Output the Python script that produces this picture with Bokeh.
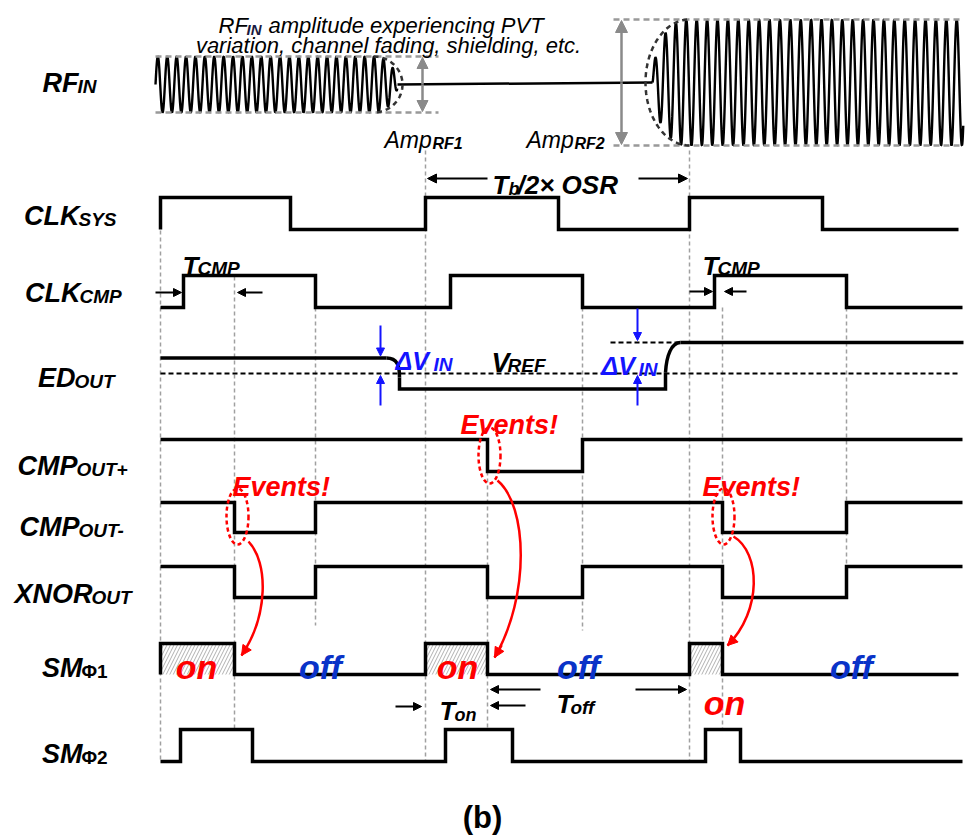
import numpy as np
from bokeh.plotting import figure
from bokeh.models import Range1d, Arrow, NormalHead, ColumnDataSource
from bokeh.core.properties import value
from bokeh.embed import file_html
from bokeh.resources import INLINE

# ---------------- data (time axis in drawing units) ----------------
T_START, T_END = 160, 962
clk_sys_edges = [160, 290, 425, 558, 689, 822]
clk_cmp_edges = [183, 315, 450, 582, 714, 846]
cmp_p_edges = [487, 582]
cmp_m_edges = [234, 315, 722, 846]
xnor_edges = [234, 315, 487, 582, 722, 846]
sm1_edges = [160, 234, 425, 487, 689, 722]
sm2_edges = [180, 252, 445, 512, 705, 740]
ed_edges = [388, 665]
ed_levels = [0.5, -0.5, 1.0]          # ED_OUT relative to V_REF (units of ΔV)
event_times = [234, 487, 722]
guide_lines = [(160, 230, 761), (234, 276, 729), (315, 307, 625), (425, 150, 761),
               (487, 471, 729), (582, 307, 630), (689, 150, 761), (722, 307, 729),
               (846, 307, 566)]
rf1_amp, rf2_amp = 28, 63
rf1_period, rf2_period = 9.4, 10.4
rf1_span = [155, 373, 397]   # start, full-amplitude end, fade end
rf2_span = [652, 686, 963]   # start, full amplitude, end

FONT = value("Liberation Sans")

p = figure(width=967, height=838, x_range=Range1d(0, 967), y_range=Range1d(838, 0),
           x_axis_type=None, y_axis_type=None, toolbar_location=None,
           output_backend="svg", min_border=0, outline_line_color=None)
p.grid.visible = False
p.background_fill_color = "white"
p.border_fill_color = "white"


def txt(x, y, s, size, style="bold italic", color="black", align="left"):
    p.text(x=[x], y=[y], text=[s], text_font=FONT, text_font_size=f"{size}px",
           text_font_style=style, text_color=color, text_align=align,
           text_baseline="alphabetic")


def arrows(pairs, color="black", width=2, size=9):
    src = ColumnDataSource(dict(x0=[a[0] for a in pairs], y0=[a[1] for a in pairs],
                                x1=[a[2] for a in pairs], y1=[a[3] for a in pairs]))
    head = NormalHead(size=size, fill_color=color, line_color=color)
    p.add_layout(Arrow(source=src, x_start="x0", y_start="y0", x_end="x1", y_end="y1",
                       end=head, line_color=color, line_width=width))


def steps(edges, init, hi, lo, t0=T_START, t1=T_END):
    lvl = init
    xs, ys = [t0], [hi if lvl else lo]
    for e in edges:
        xs.append(e); ys.append(hi if lvl else lo)
        lvl = 1 - lvl
        xs.append(e); ys.append(hi if lvl else lo)
    xs.append(t1); ys.append(hi if lvl else lo)
    return xs, ys


# ---------------- guide lines ----------------
for gx, gy0, gy1 in guide_lines:
    p.line([gx, gx], [gy0, gy1], line_color="#a0a0a0", line_width=1.5, line_dash="4 3")

# ---------------- RF input ----------------
rc1, rc2 = 84, 82
x1 = np.arange(rf1_span[0], rf1_span[2], 0.25)
env1 = np.where(x1 <= rf1_span[1], rf1_amp,
                rf1_amp * np.sqrt(np.clip(1 - ((x1 - rf1_span[1]) / (rf1_span[2] - rf1_span[1])) ** 2, 0, 1)))
y1 = rc1 - env1 * np.sin(2 * np.pi * (x1 - rf1_span[0]) / rf1_period)
p.line(x1, y1, line_color="black", line_width=2.4)
p.line([rf1_span[2], rf2_span[0]], [rc1, rc2], line_color="black", line_width=2.5)
x2 = np.arange(rf2_span[0], rf2_span[2], 0.25)
env2 = np.where(x2 >= rf2_span[1], rf2_amp,
                rf2_amp * np.sqrt(np.clip(1 - ((rf2_span[1] - x2) / (rf2_span[1] - rf2_span[0])) ** 2, 0, 1)))
y2 = rc2 - env2 * np.sin(2 * np.pi * (x2 - rf2_span[0]) / rf2_period)
p.line(x2, y2, line_color="black", line_width=2.4)

# envelopes
for yy in (rc1 - rf1_amp, rc1 + rf1_amp):
    p.line([155, 438], [yy, yy], line_color="#999999", line_width=2.5, line_dash="6 4")
for yy in (rc2 - rf2_amp, rc2 + rf2_amp):
    p.line([613, 963], [yy, yy], line_color="#999999", line_width=2.5, line_dash="6 4")
t = np.linspace(-np.pi / 2, np.pi / 2, 60)
p.line(rf1_span[1] + 29 * np.cos(t), rc1 + rf1_amp * np.sin(t), line_color="#333333",
       line_width=2.5, line_dash="5 4")
t = np.linspace(np.pi / 2, 3 * np.pi / 2, 80)
p.line(689 + 44 * np.cos(t), rc2 + rf2_amp * np.sin(t), line_color="#333333",
       line_width=2.5, line_dash="5 4")
arrows([(422, rc1, 422, rc1 - rf1_amp + 1), (422, rc1, 422, rc1 + rf1_amp - 1)],
       color="#8a8a8a", width=2.5, size=11)
arrows([(621, rc2, 621, rc2 - rf2_amp + 1), (621, rc2, 621, rc2 + rf2_amp - 1)],
       color="#8a8a8a", width=2.5, size=12)

# ---------------- digital waveforms ----------------
rows = {"clk_sys": (197, 229), "clk_cmp": (275, 307), "cmp_p": (439, 471),
        "cmp_m": (502, 532), "xnor": (566, 597), "sm1": (643, 674), "sm2": (729, 761)}
W = 3.5

# hatched "on" windows of SM_Φ1
hi, lo = rows["sm1"]
p.quad(left=sm1_edges[0::2], right=sm1_edges[1::2], top=[hi] * 3, bottom=[lo] * 3,
       fill_color=None, line_color=None, hatch_pattern="/", hatch_color="#b0b0b0",
       hatch_scale=7, hatch_weight=1)

for name, edges, init, t1 in [("clk_sys", clk_sys_edges, 0, 958), ("clk_cmp", clk_cmp_edges, 0, 962),
                              ("cmp_p", cmp_p_edges, 1, 962), ("cmp_m", cmp_m_edges, 1, 962),
                              ("xnor", xnor_edges, 1, 962), ("sm1", sm1_edges, 0, 958),
                              ("sm2", sm2_edges, 0, 962)]:
    hi, lo = rows[name]
    xs, ys = steps(edges, init, hi, lo, T_START, t1)
    p.line(xs, ys, line_color="black", line_width=W, line_join="miter")

# ---------------- ED_OUT ----------------
vref_y, dv = 373, 31
ed_y = [vref_y - lv * dv for lv in ed_levels]
p.line([160, 960], [vref_y, vref_y], line_color="black", line_width=2, line_dash="5 3")
p.line([160, ed_edges[0] - 2], [ed_y[0], ed_y[0]], line_color="black", line_width=W)
p.bezier(x0=[ed_edges[0] - 2], y0=[ed_y[0]], x1=[ed_edges[0] + 11], y1=[vref_y + 4],
         cx0=[ed_edges[0] + 9], cy0=[ed_y[0]], cx1=[ed_edges[0] + 11], cy1=[ed_y[0] + 8],
         line_color="black", line_width=W)
p.line([ed_edges[0] + 11, ed_edges[0] + 11, ed_edges[1], ed_edges[1], ],
       [vref_y + 4, ed_y[1], ed_y[1], vref_y - 1], line_color="black", line_width=W,
       line_join="miter")
p.bezier(x0=[ed_edges[1]], y0=[vref_y - 1], x1=[ed_edges[1] + 15], y1=[ed_y[2]],
         cx0=[ed_edges[1] + 1], cy0=[vref_y - 18], cx1=[ed_edges[1] + 6], cy1=[ed_y[2]],
         line_color="black", line_width=W)
p.line([ed_edges[1] + 15, 963], [ed_y[2], ed_y[2]], line_color="black", line_width=W)
p.line([610, ed_edges[1] + 12], [ed_y[2], ed_y[2]], line_color="black", line_width=2,
       line_dash="5 3")

BLUE = "#1414ff"
arrows([(380, 325, 380, ed_y[0] - 2), (380, 405, 380, vref_y + 2),
        (637, 308, 637, ed_y[2] - 2), (637, 405, 637, vref_y + 2)], color=BLUE, width=2, size=8)

# ---------------- timing annotations ----------------
arrows([(487, 178, 427, 178), (638, 178, 687, 178)], width=2, size=9)
txt(492, 184, "T", 26)
txt(508, 188, "b", 18)
txt(517, 184, "/2× OSR", 26)

arrows([(155, 292, 181, 292), (262, 292, 237, 292),
        (689, 291, 712, 291), (746, 291, 724, 291)], width=2, size=8)
txt(182, 265, "T", 26)
txt(197, 268, "CMP", 19)
txt(702, 265, "T", 26)
txt(717, 268, "CMP", 19)

arrows([(395, 706, 421, 706), (525, 705, 490, 705),
        (540, 689, 490, 689), (635, 689, 686, 689)], width=2, size=8)
txt(439, 710, "T", 26)
txt(454, 714, "on", 18)
txt(556, 703, "T", 26)
txt(570, 707, "off", 19)

# ED labels
txt(395, 360, "ΔV", 25, color=BLUE)
txt(433, 364, "IN", 19, color=BLUE)
txt(601, 365, "ΔV", 25, color=BLUE)
txt(638, 369, "IN", 19, color=BLUE)
txt(491, 362, "V", 27)
txt(507, 365, "REF", 19)

# ---------------- events ----------------
RED = "#ff0000"
p.ellipse(x=[237, 489, 723], y=[516, 455, 516], width=[22, 22, 22], height=[56, 56, 56],
          fill_color=None, line_color=RED, line_width=2.5, line_dash="4 3")
txt(232, 486, "Events!", 27, color=RED)
txt(460, 424, "Events!", 27, color=RED)
txt(702, 486, "Events!", 27, color=RED)
curves = [((248, 541), (268, 562), (268, 615), (241, 655)),
          ((497, 480), (527, 505), (530, 595), (494, 657)),
          ((733, 536), (760, 552), (762, 610), (727, 645))]
for (a, b, c, d) in curves:
    p.bezier(x0=[a[0]], y0=[a[1]], cx0=[b[0]], cy0=[b[1]], cx1=[c[0]], cy1=[c[1]],
             x1=[d[0]], y1=[d[1]], line_color=RED, line_width=2.5)
arrows([(c[0] + (d[0] - c[0]) * 0.8, c[1] + (d[1] - c[1]) * 0.8, d[0], d[1])
        for (a, b, c, d) in curves], color=RED, width=2.5, size=10)

# on / off labels
for cx, cy in [(196, 666), (457, 666), (724, 702)]:
    txt(cx, cy, "on", 34, color=RED, align="center")
for cx in [320, 578, 851]:
    txt(cx, 666, "off", 34, color="#0a33c8", align="center")

# ---------------- signal names ----------------
labels = [("RF", 82, "IN", 77, 86), ("CLK", 215, "SYS", 78, 219),
          ("CLK", 292, "CMP", 79, 296), ("ED", 377, "OUT", 74, 381),
          ("CMP", 465, "OUT+", 76, 469), ("CMP", 526, "OUT-", 78, 530),
          ("XNOR", 593, "OUT", 91, 597), ("SM", 667, "Φ1", 81, 671),
          ("SM", 753, "Φ2", 81, 757)]
for m, my, s, sx, sy in labels:
    txt(sx + 1, my, m, 27, align="right")
    txt(sx, sy, s, 19, style="bold" if s.startswith("Φ") else "bold italic")

# ---------------- RF annotations ----------------
txt(218, 25, "RF", 22, style="italic")
txt(246, 29, "IN", 15, style="bold italic", color="#1a1a40")
txt(268, 25, "amplitude experiencing PVT", 22, style="italic")
txt(388, 45, "variation, channel fading, shielding, etc.", 22, style="italic", align="center")
txt(384, 139, "Amp", 23, style="italic")
txt(432, 143, "RF1", 16)
txt(526, 139, "Amp", 23, style="italic")
txt(574, 143, "RF2", 16)

txt(482, 817, "(b)", 31, style="bold", align="center")

open("out.html", "w").write(file_html(p, INLINE))
